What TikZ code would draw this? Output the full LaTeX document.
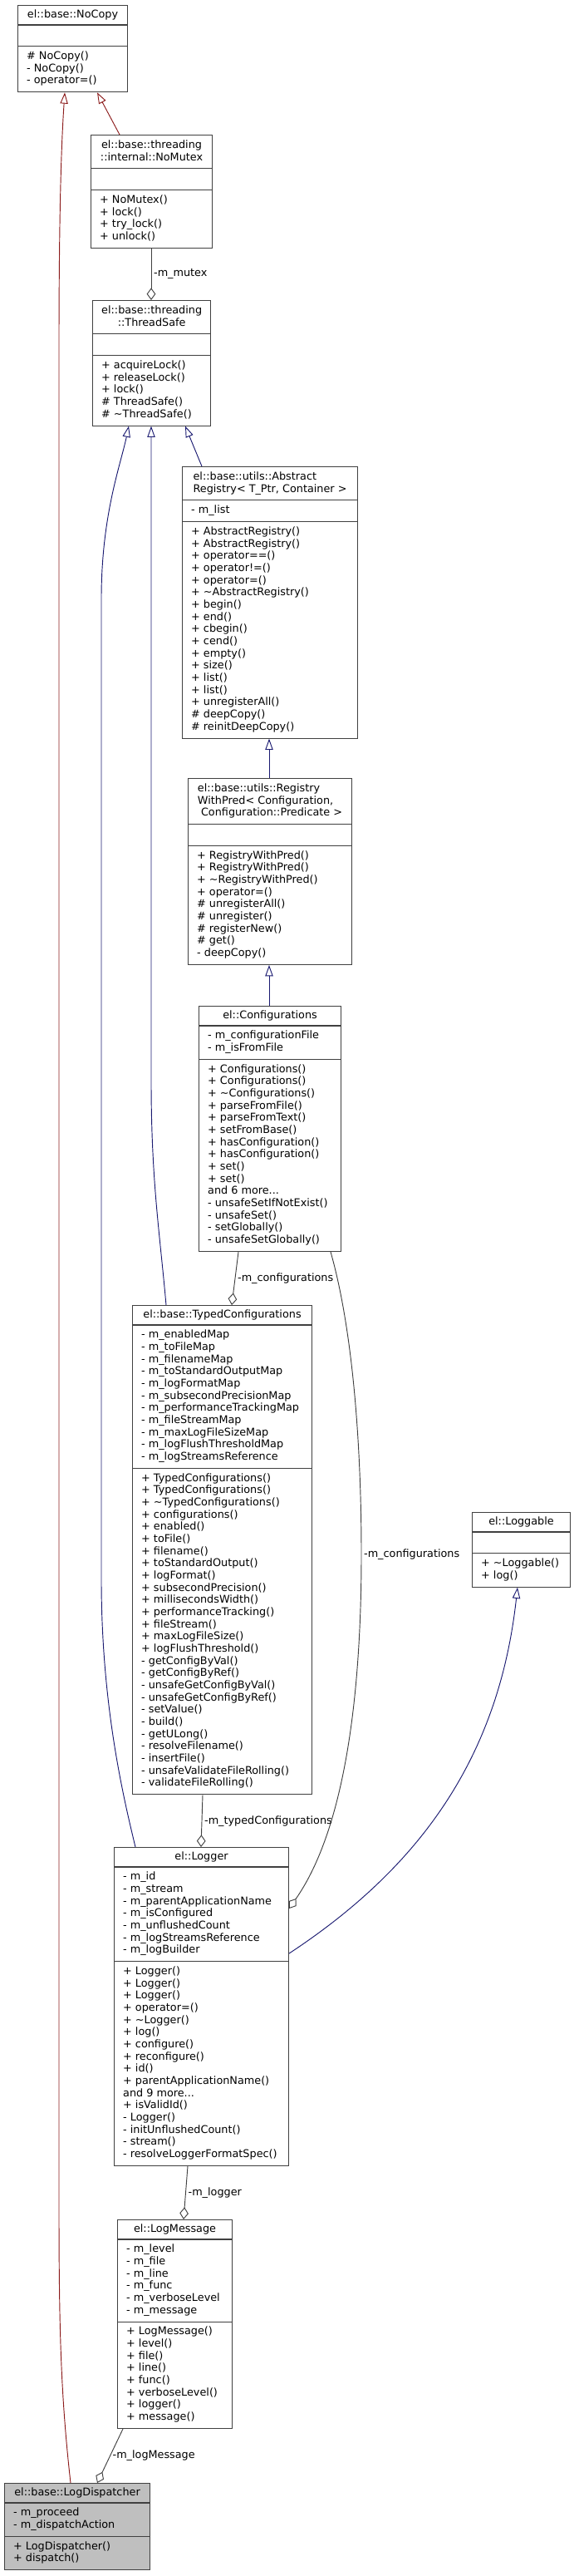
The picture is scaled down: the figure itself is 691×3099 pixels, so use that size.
\documentclass[tikz,border=0pt]{standalone}
\usepackage{fontspec}
\setmainfont{DejaVu Sans}
\usetikzlibrary{shapes.multipart,arrows.meta,calc}
\definecolor{midnightblue}{HTML}{191970}
\definecolor{firebrick}{HTML}{8B1A1A}
\definecolor{grey25}{HTML}{404040}
\definecolor{grey75}{HTML}{BFBFBF}
\newcommand\clines[1]{\begin{tabular}{@{}l@{}}#1\end{tabular}}
\newcommand\ctitle[1]{\begin{tabular}{@{}c@{}}#1\end{tabular}}
\tikzset{
  cls/.style={draw=grey25, line width=0.8pt, fill=white, rectangle split, rectangle split parts=3,
    rectangle split part align={center,left,left}, inner xsep=8pt, inner ysep=3.75pt,
    anchor=north west, minimum width=#1*0.75pt, font=\fontsize{9.6}{11}\selectfont},
  inh/.style={draw=midnightblue, line width=0.7pt, -{Triangle[open, length=10pt, width=7pt]}},
  inhpriv/.style={inh, draw=firebrick},
  agg/.style={draw=grey25, line width=0.7pt, -{Diamond[open, length=11pt, width=8pt]}},
  lbl/.style={font=\fontsize{9.6}{11}\selectfont, anchor=west, inner sep=2pt}
}
\begin{document}
\begin{tikzpicture}[x=0.75pt, y=-0.75pt]
\useasboundingbox (0,0) rectangle (691,3099);

\node[cls=132] (nocopy) at (21,6) {el::base::NoCopy
  \nodepart{two}\strut
  \nodepart{three}\clines{\# NoCopy()\\- NoCopy()\\- operator=()}};
\node[cls=146] (nomutex) at (109,162) {\ctitle{el::base::threading\\::internal::NoMutex}
  \nodepart{two}\strut
  \nodepart{three}\clines{+ NoMutex()\\+ lock()\\+ try\_lock()\\+ unlock()}};
\node[cls=142] (threadsafe) at (111,361) {\ctitle{el::base::threading\\::ThreadSafe}
  \nodepart{two}\strut
  \nodepart{three}\clines{+ acquireLock()\\+ releaseLock()\\+ lock()\\\# ThreadSafe()\\\# \textasciitilde{}ThreadSafe()}};
\node[cls=211] (abstractreg) at (219,561) {\clines{el::base::utils::Abstract\\Registry< T\_Ptr, Container >}
  \nodepart{two}\clines{- m\_list}
  \nodepart{three}\clines{+ AbstractRegistry()\\+ AbstractRegistry()\\+ operator==()\\+ operator!=()\\+ operator=()\\
    + \textasciitilde{}AbstractRegistry()\\+ begin()\\+ end()\\+ cbegin()\\+ cend()\\+ empty()\\+ size()\\+ list()\\+ list()\\
    + unregisterAll()\\\# deepCopy()\\\# reinitDeepCopy()}};
\node[cls=197] (regpred) at (226,936) {\clines{el::base::utils::Registry\\WithPred< Configuration,\\\ Configuration::Predicate >}
  \nodepart{two}\strut
  \nodepart{three}\clines{+ RegistryWithPred()\\+ RegistryWithPred()\\+ \textasciitilde{}RegistryWithPred()\\+ operator=()\\
    \# unregisterAll()\\\# unregister()\\\# registerNew()\\\# get()\\- deepCopy()}};
\node[cls=171] (configs) at (239,1210) {el::Configurations
  \nodepart{two}\clines{- m\_configurationFile\\- m\_isFromFile}
  \nodepart{three}\clines{+ Configurations()\\+ Configurations()\\+ \textasciitilde{}Configurations()\\+ parseFromFile()\\
    + parseFromText()\\+ setFromBase()\\+ hasConfiguration()\\+ hasConfiguration()\\+ set()\\+ set()\\and 6 more...\\
    - unsafeSetIfNotExist()\\- unsafeSet()\\- setGlobally()\\- unsafeSetGlobally()}};
\node[cls=216] (typedconf) at (159,1570) {el::base::TypedConfigurations
  \nodepart{two}\clines{- m\_enabledMap\\- m\_toFileMap\\- m\_filenameMap\\- m\_toStandardOutputMap\\- m\_logFormatMap\\
    - m\_subsecondPrecisionMap\\- m\_performanceTrackingMap\\- m\_fileStreamMap\\- m\_maxLogFileSizeMap\\
    - m\_logFlushThresholdMap\\- m\_logStreamsReference}
  \nodepart{three}\clines{+ TypedConfigurations()\\+ TypedConfigurations()\\+ \textasciitilde{}TypedConfigurations()\\
    + configurations()\\+ enabled()\\+ toFile()\\+ filename()\\+ toStandardOutput()\\+ logFormat()\\
    + subsecondPrecision()\\+ millisecondsWidth()\\+ performanceTracking()\\+ fileStream()\\+ maxLogFileSize()\\
    + logFlushThreshold()\\- getConfigByVal()\\- getConfigByRef()\\- unsafeGetConfigByVal()\\- unsafeGetConfigByRef()\\
    - setValue()\\- build()\\- getULong()\\- resolveFilename()\\- insertFile()\\- unsafeValidateFileRolling()\\
    - validateFileRolling()}};
\node[cls=118] (loggable) at (568,1819) {el::Loggable
  \nodepart{two}\strut
  \nodepart{three}\clines{+ \textasciitilde{}Loggable()\\+ log()}};
\node[cls=210] (logger) at (137,2222) {el::Logger
  \nodepart{two}\clines{- m\_id\\- m\_stream\\- m\_parentApplicationName\\- m\_isConfigured\\- m\_unflushedCount\\
    - m\_logStreamsReference\\- m\_logBuilder}
  \nodepart{three}\clines{+ Logger()\\+ Logger()\\+ Logger()\\+ operator=()\\+ \textasciitilde{}Logger()\\+ log()\\
    + configure()\\+ reconfigure()\\+ id()\\+ parentApplicationName()\\and 9 more...\\+ isValidId()\\- Logger()\\
    - initUnflushedCount()\\- stream()\\- resolveLoggerFormatSpec()}};
\node[cls=138] (logmessage) at (141,2670) {el::LogMessage
  \nodepart{two}\clines{- m\_level\\- m\_file\\- m\_line\\- m\_func\\- m\_verboseLevel\\- m\_message}
  \nodepart{three}\clines{+ LogMessage()\\+ level()\\+ file()\\+ line()\\+ func()\\+ verboseLevel()\\+ logger()\\+ message()}};
\node[cls=175, fill=grey75] (dispatcher) at (5,2987) {el::base::LogDispatcher
  \nodepart{two}\clines{- m\_proceed\\- m\_dispatchAction}
  \nodepart{three}\clines{+ LogDispatcher()\\+ dispatch()}};

% inheritance
\draw[inhpriv] ($(dispatcher.north west)+(80,0)$) .. controls (73,2880) and (71,2800) .. (71,2650)
  -- (71,420) .. controls (71,250) and (74,170) .. ($(nocopy.south west)+(57,0)$);
\draw[inhpriv] ($(nomutex.north west)+(35,0)$) -- ($(nocopy.south west)+(96,0)$);
\draw[inh] ($(abstractreg.north west)+(24,0)$) -- ($(threadsafe.south west)+(112,0)$);
\draw[inh] ($(typedconf.north west)+(41,0)$) .. controls (192,1480) and (182,1420) .. (182,1300)
  -- ($(threadsafe.south west)+(71,0)$);
\draw[inh] ($(logger.north west)+(26,0)$) .. controls (148,2160) and (122,2050) .. (122,1900)
  -- (122,720) .. controls (122,620) and (145,560) .. ($(threadsafe.south west)+(44,0)$);
\draw[inh] ($(regpred.north west)+(98,0)$) -- ($(abstractreg.south west)+(105,0)$);
\draw[inh] ($(configs.north west)+(85,0)$) -- ($(regpred.south west)+(98,0)$);
\draw[inh] ($(logger.north east)+(0,128)$) .. controls (500,2250) and (600,2120) .. ($(loggable.south west)+(55,0)$);

% members
\draw[agg] ($(nomutex.south west)+(73,0)$) -- node[lbl] {-m\_mutex} ($(threadsafe.north west)+(71,0)$);
\draw[agg] ($(configs.south west)+(48,0)$) -- node[lbl] {-m\_configurations} ($(typedconf.north west)+(120,0)$);
\draw[agg] ($(configs.south west)+(159,0)$) .. controls (422,1590) and (435,1720) .. (435,1870)
  node[lbl] {-m\_configurations} .. controls (435,2040) and (415,2200) .. ($(logger.north east)+(0,74)$);
\draw[agg] ($(typedconf.south west)+(85,0)$) -- node[lbl] {-m\_typedConfigurations} ($(logger.north west)+(105,0)$);
\draw[agg] ($(logger.south west)+(89,0)$) -- node[lbl] {-m\_logger} ($(logmessage.north west)+(80,0)$);
\draw[agg] ($(logmessage.south west)+(7,0)$) -- node[lbl] {-m\_logMessage} ($(dispatcher.north west)+(112,0)$);
\end{tikzpicture}
\end{document}
